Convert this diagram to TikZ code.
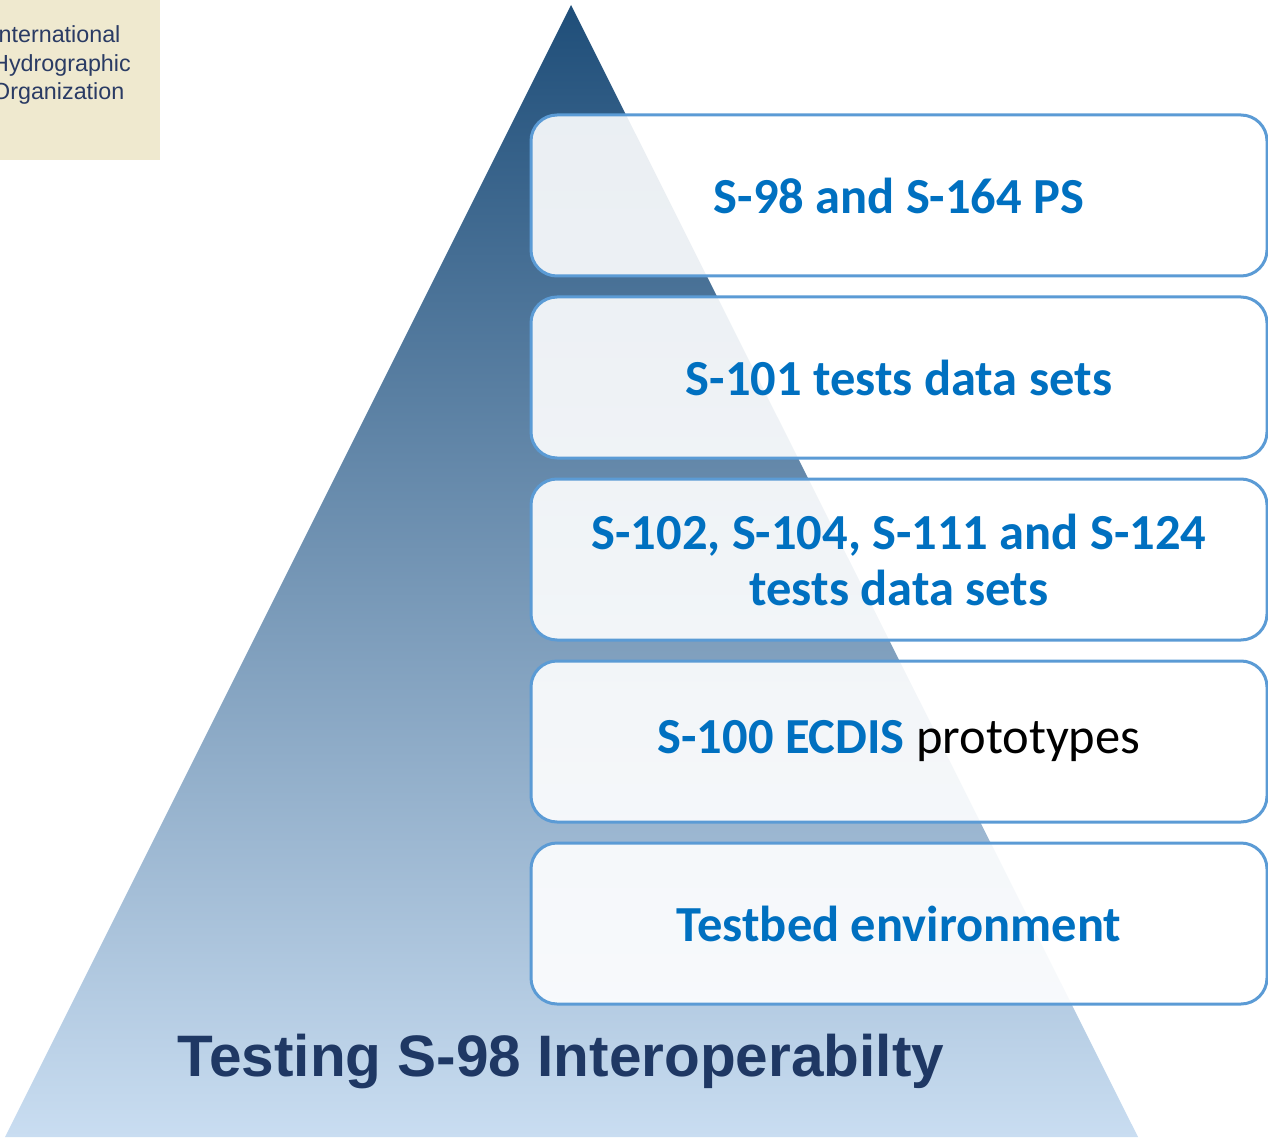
\documentclass[tikz,border=0pt]{standalone}
\usepackage{fontspec}
\usepackage{xcolor}
\usepackage{tikz}
\newfontfamily\calibri{Carlito}
\newfontfamily\arial{Liberation Sans}
\definecolor{iholabel}{HTML}{2A3B64}
\definecolor{ihoback}{HTML}{EFE9CF}
\definecolor{tiertext}{HTML}{0070C0}
\definecolor{tierline}{HTML}{5B9BD5}
\definecolor{pyrtop}{HTML}{1F4E79}
\definecolor{pyrmid}{HTML}{86A6C6}
\definecolor{pyrbot}{HTML}{C9DDF1}
\definecolor{titlenavy}{HTML}{1F3864}
\tikzset{
  tier/.style={draw=tierline,line width=3pt,rounded corners=26pt,fill=white,
    fill opacity=0.9,text opacity=1,minimum width=736pt,minimum height=161pt,
    text=tiertext,align=center,inner sep=0pt,
    font=\calibri\bfseries\fontsize{50.5}{56}\selectfont}
}

\begin{document}
\begin{tikzpicture}[x=1pt,y=-1pt]
    \useasboundingbox (0,0) rectangle (1268,1139);
    % logo corner
    \fill[ihoback] (0,0) rectangle (160,160);
    \begin{scope}
      \clip (0,0) rectangle (160,160);
      \path (-8,43) node[anchor=base west,inner sep=0pt,text=iholabel,font=\arial\fontsize{23.3}{28}\selectfont] (ihoa) {International};
      \path (-8,71.5) node[anchor=base west,inner sep=0pt,text=iholabel,font=\arial\fontsize{23.3}{28}\selectfont] (ihob) {Hydrographic};
      \path (-8,100) node[anchor=base west,inner sep=0pt,text=iholabel,font=\arial\fontsize{23.3}{28}\selectfont] (ihoc) {Organization};
    \end{scope}
    % pyramid
    \shade[top color=pyrtop,middle color=pyrmid,bottom color=pyrbot] (571,5) -- (1138,1137) -- (5,1137) -- cycle;
    % tiers
    \node[tier] (ps) at (899,195.5) {S-98 and S-164 PS};
    \node[tier] (tds) at (899,377.5) {S-101 tests data sets};
    \node[tier] (others) at (899,559.5) {S-102, S-104, S-111 and S-124\\tests data sets};
    \node[tier] (ecdis) at (899,741.5) {S-100 ECDIS {\mdseries\color{black}prototypes}};
    \node[tier] (testbed) at (899,923.5) {Testbed environment};
    \path (561,1061) node[text=titlenavy,font=\arial\bfseries\fontsize{58.5}{64}\selectfont] (title) {Testing S-98 Interoperabilty};
\end{tikzpicture}
\end{document}
